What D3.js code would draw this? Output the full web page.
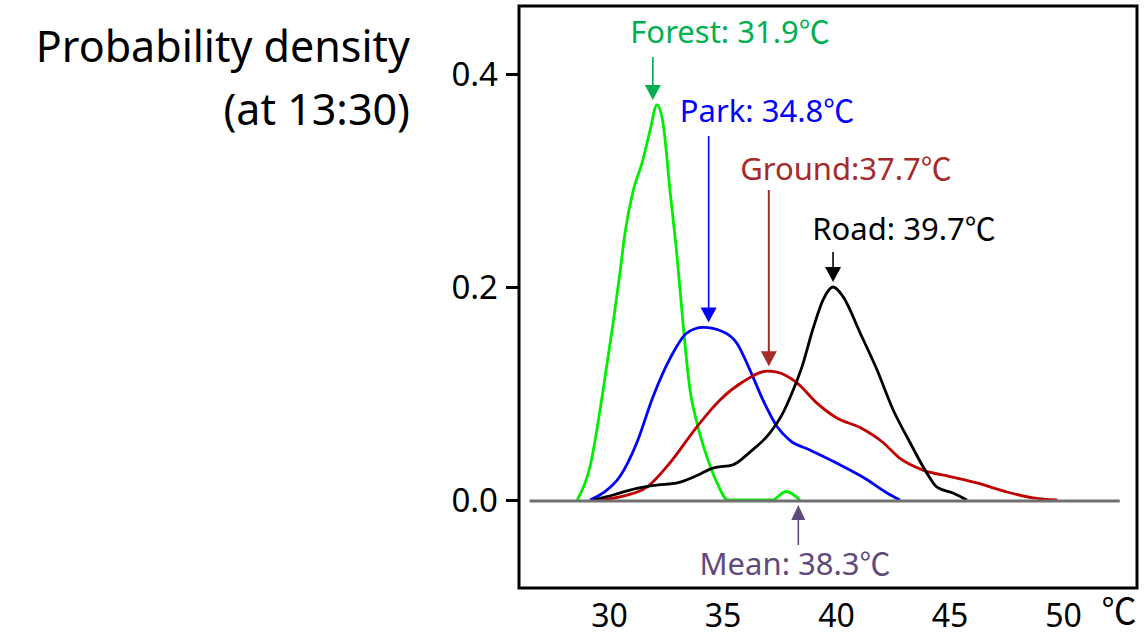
<!DOCTYPE html>
<html>
<head>
<meta charset="utf-8">
<script src="https://cdn.jsdelivr.net/npm/d3@7"></script>
<style>
body { margin: 0; background: #fff; }
text { font-family: "Noto Sans", "Noto Sans CJK JP", sans-serif; }
.deg { font-family: "Noto Sans CJK JP", sans-serif; }
</style>
</head>
<body>
<svg id="graph" width="1146" height="635"></svg>
<script>
// density curves, [temperature, density]
var forest = [[28.6,0],[29.16,0.031],[29.74,0.103],[30.18,0.166],[30.48,0.213],[30.7,0.25],
    [31.06,0.29],[31.45,0.316],[31.81,0.347],[32.11,0.371],[32.38,0.354],[32.69,0.29],
    [33.0,0.228],[33.26,0.166],[33.57,0.103],[33.88,0.072],[34.32,0.04],[34.76,0.016],
    [35.24,0],[37.18,0],[37.8,0.008],[38.41,0]]
var park = [[29.16,0],[29.74,0.0066],[30.48,0.022],[31.23,0.054],[31.94,0.097],[32.69,0.133],
    [33.44,0.157],[34.14,0.162],[35.02,0.158],[35.64,0.147],[36.21,0.122],[36.78,0.094],
    [37.4,0.069],[37.97,0.056],[38.85,0.047],[40.0,0.035],[41.06,0.023],[41.37,0.019],
    [42.25,0.0066],[42.82,0]]
var ground = [[29.47,0],[30.48,0.003],[31.67,0.012],[32.69,0.035],[33.88,0.069],[34.89,0.094],
    [35.9,0.111],[36.96,0.121],[37.4,0.12],[38.28,0.11],[39.16,0.091],[40.04,0.077],
    [41.06,0.068],[42.07,0.054],[42.82,0.039],[43.83,0.028],[45.02,0.022],[46.21,0.016],
    [47.53,0.0075],[48.68,0.002],[49.74,0]]
var road = [[29.3,0],[30.18,0.0047],[31.23,0.011],[32.11,0.014],[33.0,0.016],[33.88,0.023],
    [34.58,0.03],[35.46,0.033],[36.21,0.045],[37.09,0.063],[37.67,0.082],[38.11,0.103],
    [38.5,0.125],[38.99,0.161],[39.43,0.188],[39.87,0.2],[40.31,0.191],[41.06,0.157],
    [41.81,0.122],[42.51,0.085],[43.26,0.054],[44.01,0.025],[44.45,0.012],[45.15,0.0066],[45.77,0]]

var xTicks = [30, 35, 40, 45, 50]
var yTicks = [0.0, 0.2, 0.4]
var labels = ["Forest: 31.9", "Park: 34.8", "Ground:37.7", "Road: 39.7"]
var arrowAt = [31.93, 34.39, 37.04, 39.87]
var meanLabel = "Mean: 38.3"
var meanAt = 38.34

var series = [
    { data: forest, line: "#00ee00", text: "#00b050", lx: 730, ly: 43, top: 57 },
    { data: park, line: "#0000ff", text: "#0000ff", lx: 767, ly: 122, top: 136 },
    { data: ground, line: "#c00000", text: "#a52a2a", lx: 846, ly: 180, top: 190 },
    { data: road, line: "#000000", text: "#000000", lx: 904, ly: 240, top: 252 }
]

var x = d3.scaleLinear().domain([30, 50]).range([609, 1063])
var y = d3.scaleLinear().domain([0, 0.4]).range([500, 74])

var svg = d3.select("#graph")

// left title
svg.append("text").attr("x", 410).attr("y", 62).attr("text-anchor", "end")
    .attr("font-size", 43).text("Probability density")
svg.append("text").attr("x", 410).attr("y", 125).attr("text-anchor", "end")
    .attr("font-size", 43).text("(at 13:30)")

// y axis
var yAxis = svg.append("g").attr("transform", "translate(519,0)")
    .call(d3.axisLeft(y).tickValues(yTicks).tickFormat(d3.format(".1f")).tickSize(13).tickPadding(8))
yAxis.select(".domain").remove()
yAxis.selectAll("line").attr("stroke", "#000").attr("stroke-width", 3)
yAxis.selectAll("text").attr("font-size", 33).attr("fill", "#000")
    .attr("font-family", "Noto Sans").attr("dy", "0.36em")

// x axis: labels only
var xAxis = svg.append("g").attr("transform", "translate(0,588)")
    .call(d3.axisBottom(x).tickValues(xTicks).tickFormat(d3.format("d")).tickSize(0))
xAxis.select(".domain").remove()
xAxis.selectAll("text").attr("font-size", 32).attr("fill", "#000")
    .attr("font-family", "Noto Sans").attr("y", 39).attr("dy", 0)
svg.append("text").attr("class", "deg").attr("x", 1119).attr("y", 624).attr("text-anchor", "middle")
    .attr("font-size", 35).text("℃")

var line = d3.line()
    .x(d => x(d[0]))
    .y(d => y(d[1]))
    .curve(d3.curveMonotoneX)

series.forEach(s => {
    svg.append("path")
        .datum(s.data)
        .attr("fill", "none")
        .attr("stroke", s.line)
        .attr("stroke-width", 2.8)
        .attr("d", line)
})

// zero line
svg.append("line")
    .attr("x1", x(26.5)).attr("x2", x(52.5))
    .attr("y1", y(0) + 1).attr("y2", y(0) + 1)
    .attr("stroke", "#707070").attr("stroke-width", 3)

// plot frame
svg.append("rect").attr("x", 519).attr("y", 6).attr("width", 618).attr("height", 582)
    .attr("fill", "none").attr("stroke", "#000").attr("stroke-width", 3)

function label(tx, ty, str, col) {
    var t = svg.append("text").attr("x", tx).attr("y", ty).attr("text-anchor", "middle")
        .attr("font-size", 31).attr("fill", col)
    t.append("tspan").text(str)
    t.append("tspan").attr("class", "deg").text("℃")
}

function arrowDown(ax, y0, tip, col, w) {
    svg.append("line").attr("x1", ax).attr("x2", ax).attr("y1", y0).attr("y2", tip - 12)
        .attr("stroke", col).attr("stroke-width", w)
    svg.append("path").attr("d", d3.line()([[ax - 8, tip - 15], [ax + 8, tip - 15], [ax, tip]]) + "Z")
        .attr("fill", col)
}

series.forEach((s, i) => {
    label(s.lx, s.ly, labels[i], s.text)
    var tip = y(d3.max(s.data, d => d[1])) - 5
    arrowDown(x(arrowAt[i]), s.top, tip, s.text, i == 2 ? 2 : 1.6)
})

// mean marker below the zero line
var mx = x(meanAt)
svg.append("line").attr("x1", mx).attr("x2", mx).attr("y1", 545).attr("y2", 517)
    .attr("stroke", "#604a7b").attr("stroke-width", 1.6)
svg.append("path").attr("d", d3.line()([[mx - 7, 520], [mx + 7, 520], [mx, 505]]) + "Z")
    .attr("fill", "#604a7b")
label(795, 575, meanLabel, "#604a7b")
</script>
</body>
</html>
